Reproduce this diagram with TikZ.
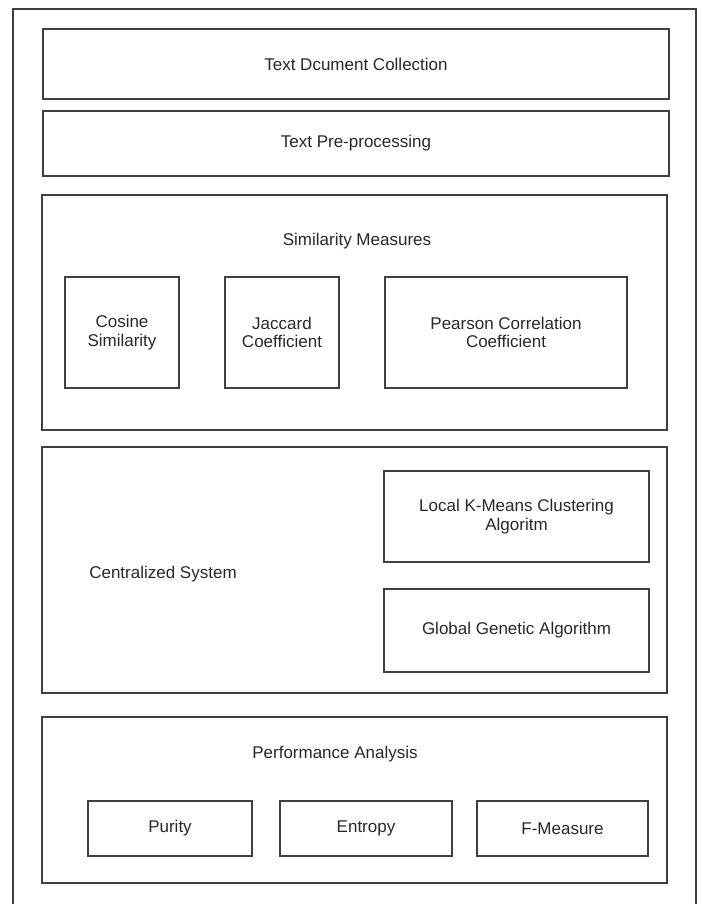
\documentclass[tikz,border=0pt]{standalone}
\usepackage{fontspec}
\setmainfont{Liberation Sans}
\usepackage{tikz}
\definecolor{boxgray}{RGB}{64,64,64}
\definecolor{txtgray}{RGB}{40,40,40}

\begin{document}
\begin{tikzpicture}[x=1pt,y=-1pt,
    blk/.style={draw=boxgray, line width=1.7pt, rectangle, inner sep=0pt, align=center, text=txtgray, font=\fontsize{17}{18.5}\selectfont},
    ttl/.style={text=txtgray, inner sep=0pt, font=\fontsize{17}{18.5}\selectfont}]
    \useasboundingbox (0,0) rectangle (702,904);
    % outer frame, open at the bottom
    \draw[boxgray, line width=1.7pt] (13,904) -- (13,9) -- (696,9) -- (696,904);
    % top rows
    \node[blk, minimum width=626pt, minimum height=70pt] (coll) at (356,64) {Text Dcument Collection};
    \node[blk, minimum width=626pt, minimum height=65pt] (prep) at (356,143.5) {Text Pre-processing};
    % similarity measures
    \node[blk, minimum width=625pt, minimum height=235pt] (sim) at (354.5,312.5) {};
    \node[ttl] (simt) at (357,241) {Similarity Measures};
    \node[blk, minimum width=114pt, minimum height=111pt] (cos) at (122,332.5) {Cosine\\Similarity};
    \node[blk, minimum width=114pt, minimum height=111pt] (jac) at (282,332.5) {Jaccard\\Coefficient};
    \node[blk, minimum width=242pt, minimum height=111pt] (pear) at (506,332.5) {Pearson Correlation\\Coefficient};
    % centralized system
    \node[blk, minimum width=625pt, minimum height=246pt] (cent) at (354.5,570) {};
    \node[ttl] (centt) at (163,574) {Centralized System};
    \node[blk, minimum width=265pt, minimum height=91pt] (local) at (516.5,516.5) {Local K-Means Clustering\\Algoritm};
    \node[blk, minimum width=265pt, minimum height=83pt] (global) at (516.5,630.5) {Global Genetic Algorithm};
    % performance analysis
    \node[blk, minimum width=625pt, minimum height=166pt] (perf) at (354.5,800) {};
    \node[ttl] (perft) at (335,754) {Performance Analysis};
    \node[blk, minimum width=164pt, minimum height=55pt] (pur) at (170,828.5) {Purity};
    \node[blk, minimum width=172pt, minimum height=55pt] (ent) at (366,828.5) {Entropy};
    \node[blk, minimum width=171pt, minimum height=55pt] (fm) at (562.5,828.5) {F-Measure};
\end{tikzpicture}
\end{document}
